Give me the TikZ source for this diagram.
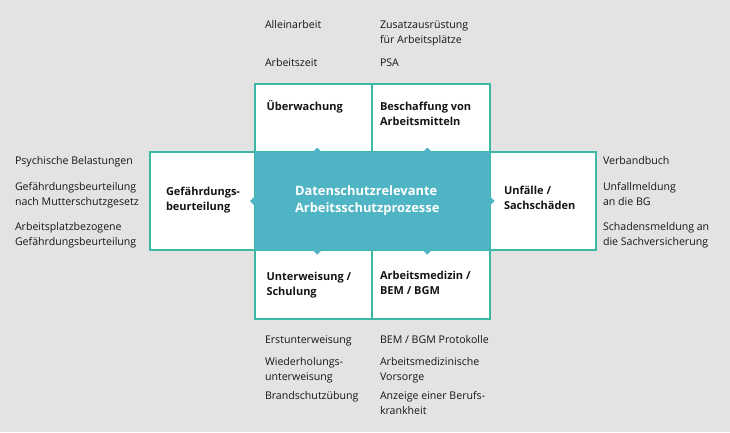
\documentclass[tikz,border=0pt]{standalone}
\usepackage{fontspec}
\setmainfont{Open Sans}
\definecolor{bg}{HTML}{E3E3E3}
\definecolor{bord}{HTML}{3CB8A4}
\definecolor{core}{HTML}{4FB5C4}
\definecolor{ink}{HTML}{151515}
\tikzset{
  box/.style={draw=bord, line width=2pt, fill=white, anchor=north west, inner sep=0pt, outer sep=0pt},
  lst/.style={anchor=north west, inner sep=0pt, outer sep=0pt, align=left, text=ink, font=\fontsize{10.6}{15}\selectfont},
  lbl/.style={anchor=north west, inner sep=0pt, outer sep=0pt, align=left, text=ink, font=\bfseries\fontsize{11}{15}\selectfont},
  ctr/.style={anchor=north west, inner sep=0pt, outer sep=0pt, align=left, text=white, font=\bfseries\fontsize{12.9}{17}\selectfont},
  notch/.style={fill=core, draw=none}
}
\begin{document}
\begin{tikzpicture}[x=1pt,y=-1pt]
\useasboundingbox (0,0) rectangle (730,432);
\fill[bg] (0,0) rectangle (730,432);
% boxes
\node[box, minimum width=117.5pt, minimum height=68pt] (ovw) at (254.5,84) {};
\node[box, minimum width=118pt, minimum height=68pt] (bes) at (372,84) {};
\node[box, minimum width=104.5pt, minimum height=98pt] (gef) at (150,152) {};
\node[box, minimum width=106pt, minimum height=98pt] (unf) at (490,152) {};
\node[box, minimum width=117.5pt, minimum height=68.5pt] (unt) at (254.5,250) {};
\node[box, minimum width=118pt, minimum height=68.5pt] (med) at (372,250) {};
% centre
\node[fill=core, draw=none, anchor=north west, inner sep=0pt, outer sep=0pt, minimum width=235.5pt, minimum height=98pt] (core) at (254.5,152) {};
% notches
\fill[notch] ([xshift=-55pt,yshift=-1pt]core.north) -- ++(-5.5,0) -- ++(5.5,-5.5) -- ++(5.5,5.5) -- cycle;
\fill[notch] ([xshift=55pt,yshift=-1pt]core.north) -- ++(-5.5,0) -- ++(5.5,-5.5) -- ++(5.5,5.5) -- cycle;
\fill[notch] ([xshift=-55pt,yshift=1pt]core.south) -- ++(-5.5,0) -- ++(5.5,5.5) -- ++(5.5,-5.5) -- cycle;
\fill[notch] ([xshift=55pt,yshift=1pt]core.south) -- ++(-5.5,0) -- ++(5.5,5.5) -- ++(5.5,-5.5) -- cycle;
\fill[notch] ([xshift=1pt]core.west) -- ++(0,-5.5) -- ++(-5.5,5.5) -- ++(5.5,5.5) -- cycle;
\fill[notch] ([xshift=-1pt]core.east) -- ++(0,-5.5) -- ++(5.5,5.5) -- ++(-5.5,5.5) -- cycle;
% box labels
\node[lbl] (tovw) at (266.5,99.5) {\strut Überwachung};
\node[lbl] (tbes) at (380,99.5) {\strut Beschaffung von\\\strut Arbeitsmitteln};
\node[lbl] (tgef) at (166,184.5) {\strut Gefährdungs-\\\strut beurteilung};
\node[lbl] (tunf) at (504,183.5) {\strut Unfälle /\\\strut Sachschäden};
\node[lbl] (tunt) at (266.5,269.5) {\strut Unterweisung /\\\strut Schulung};
\node[lbl] (tmed) at (380,268.5) {\strut Arbeitsmedizin /\\\strut BEM / BGM};
\node[ctr] (tcore) at (295,183) {\rule{0pt}{12pt}Datenschutzrelevante\\\rule{0pt}{12pt}Arbeitsschutzprozesse};
% top lists
\node[lst] (a1) at (265,18) {\strut Alleinarbeit};
\node[lst] (a2) at (265,56) {\strut Arbeitszeit};
\node[lst] (b1) at (380,18) {\strut Zusatzausrüstung\\\strut für Arbeitsplätze};
\node[lst] (b2) at (380,56) {\strut PSA};
% left list
\node[lst] (l1) at (15,154) {\strut Psychische Belastungen};
\node[lst] (l2) at (15,179.5) {\strut Gefährdungsbeurteilung\\\strut nach Mutterschutzgesetz};
\node[lst] (l3) at (15,220) {\strut Arbeitsplatzbezogene\\\strut Gefährdungsbeurteilung};
% right list
\node[lst] (r1) at (603,154) {\strut Verbandbuch};
\node[lst] (r2) at (603,179.5) {\strut Unfallmeldung\\\strut an die BG};
\node[lst] (r3) at (603,220) {\strut Schadensmeldung an\\\strut die Sachversicherung};
% bottom lists
\node[lst] (c1) at (265,333) {\strut Erstunterweisung};
\node[lst] (c2) at (265,354.5) {\strut Wiederholungs-\\\strut unterweisung};
\node[lst] (c3) at (265,389) {\strut Brandschutzübung};
\node[lst] (d1) at (380,333) {\strut BEM / BGM Protokolle};
\node[lst] (d2) at (380,354.5) {\strut Arbeitsmedizinische\\\strut Vorsorge};
\node[lst] (d3) at (380,389) {\strut Anzeige einer Berufs-\\\strut krankheit};
\end{tikzpicture}
\end{document}
